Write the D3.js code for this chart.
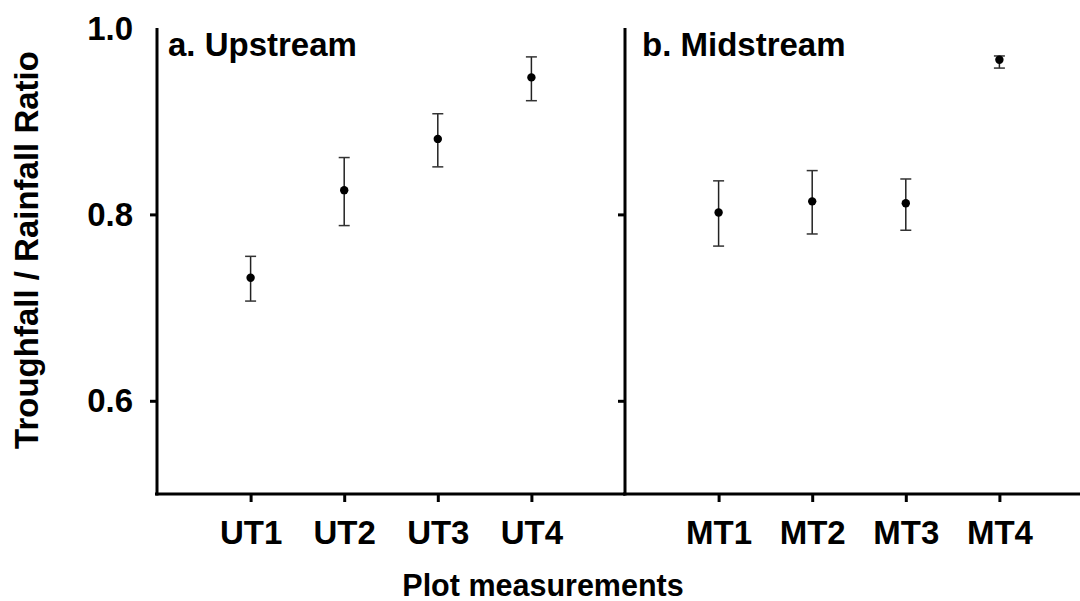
<!DOCTYPE html>
<html>
<head>
<meta charset="utf-8">
<script src="https://d3js.org/d3.v7.min.js"></script>
<style>
  body { margin: 0; background: #fff; }
  text { font-family: "Liberation Sans", Arial, sans-serif; font-weight: bold; fill: #000; }
</style>
</head>
<body>
<script>
// values
let upCats = ["UT1", "UT2", "UT3", "UT4"];
let upMean = [0.732, 0.826, 0.881, 0.947];
let upLow  = [0.707, 0.788, 0.851, 0.922];
let upHigh = [0.755, 0.861, 0.908, 0.969];

let midCats = ["MT1", "MT2", "MT3", "MT4"];
let midMean = [0.802, 0.814, 0.812, 0.966];
let midLow  = [0.766, 0.779, 0.783, 0.957];
let midHigh = [0.836, 0.847, 0.838, 0.970];

let yTicks = [0.6, 0.8, 1.0];
let yTickMarks = [0.6, 0.8];

let W = 1080, H = 601;
let plotTop = 28, plotBottom = 494;
let svg = d3.select("body").append("svg").attr("width", W).attr("height", H);

let y = d3.scaleLinear().domain([0.5, 1.0]).range([plotBottom, plotTop]);

let panels = [
    {title: "a. Upstream", cats: upCats, mean: upMean, lo: upLow, hi: upHigh, x0: 157, x1: 625, tx: 168},
    {title: "b. Midstream", cats: midCats, mean: midMean, lo: midLow, hi: midHigh, x0: 625, x1: 1093, tx: 642}
];

panels.forEach(function(p){
    let x = d3.scalePoint().domain(p.cats).range([p.x0, p.x1]).padding(1);
    let g = svg.append("g");

    // x axis
    let xa = g.append("g").attr("transform", "translate(0," + plotBottom + ")")
        .call(d3.axisBottom(x).tickSize(8).tickPadding(19));
    xa.select(".domain").remove();
    xa.selectAll(".tick line").attr("stroke", "#000").attr("stroke-width", 3);
    xa.selectAll(".tick text").attr("font-size", 33).attr("fill", "#000")
        .attr("font-family", "Liberation Sans, Arial, sans-serif").attr("font-weight", "bold");

    // y axis line with outward ticks
    let ya = g.append("g").attr("transform", "translate(" + p.x0 + ",0)")
        .call(d3.axisLeft(y).tickValues(yTickMarks).tickSize(7).tickFormat(""));
    ya.select(".domain").remove();
    ya.selectAll(".tick line").attr("stroke", "#000").attr("stroke-width", 3);
    g.append("line").attr("x1", p.x0).attr("x2", p.x0)
        .attr("y1", y(1.0)).attr("y2", plotBottom + 1.5)
        .attr("stroke", "#000").attr("stroke-width", 3);
    g.append("line").attr("x1", p.x0 - 2).attr("x2", p.x1)
        .attr("y1", plotBottom).attr("y2", plotBottom)
        .attr("stroke", "#000").attr("stroke-width", 3);

    // panel title
    g.append("text").attr("x", p.tx).attr("y", 56)
        .attr("font-size", 33).text(p.title);

    // error bars
    let idx = d3.range(p.cats.length);
    let bars = g.selectAll(".eb").data(idx).enter().append("g");
    bars.append("line")
        .attr("x1", i => x(p.cats[i])).attr("x2", i => x(p.cats[i]))
        .attr("y1", i => y(p.lo[i])).attr("y2", i => y(p.hi[i]))
        .attr("stroke", "#222").attr("stroke-width", 1.5);
    [p.lo, p.hi].forEach(function(arr){
        bars.append("line")
            .attr("x1", i => x(p.cats[i]) - 5.5).attr("x2", i => x(p.cats[i]) + 5.5)
            .attr("y1", i => y(arr[i])).attr("y2", i => y(arr[i]))
            .attr("stroke", "#333").attr("stroke-width", 1.5);
    });
    bars.append("circle")
        .attr("cx", i => x(p.cats[i])).attr("cy", i => y(p.mean[i]))
        .attr("r", 4.2).attr("fill", "#000");
});

// y tick labels (left panel only)
svg.append("g").selectAll("text").data(yTicks).enter().append("text")
    .attr("x", 133).attr("y", d => y(d) + 11.5)
    .attr("text-anchor", "end").attr("font-size", 33)
    .text(d => d.toFixed(1));

// axis titles
svg.append("text").attr("x", 543).attr("y", 596)
    .attr("text-anchor", "middle").attr("font-size", 30.5)
    .text("Plot measurements");
svg.append("text")
    .attr("transform", "translate(38,250) rotate(-90)")
    .attr("text-anchor", "middle").attr("font-size", 33)
    .text("Troughfall / Rainfall Ratio");
</script>
</body>
</html>
